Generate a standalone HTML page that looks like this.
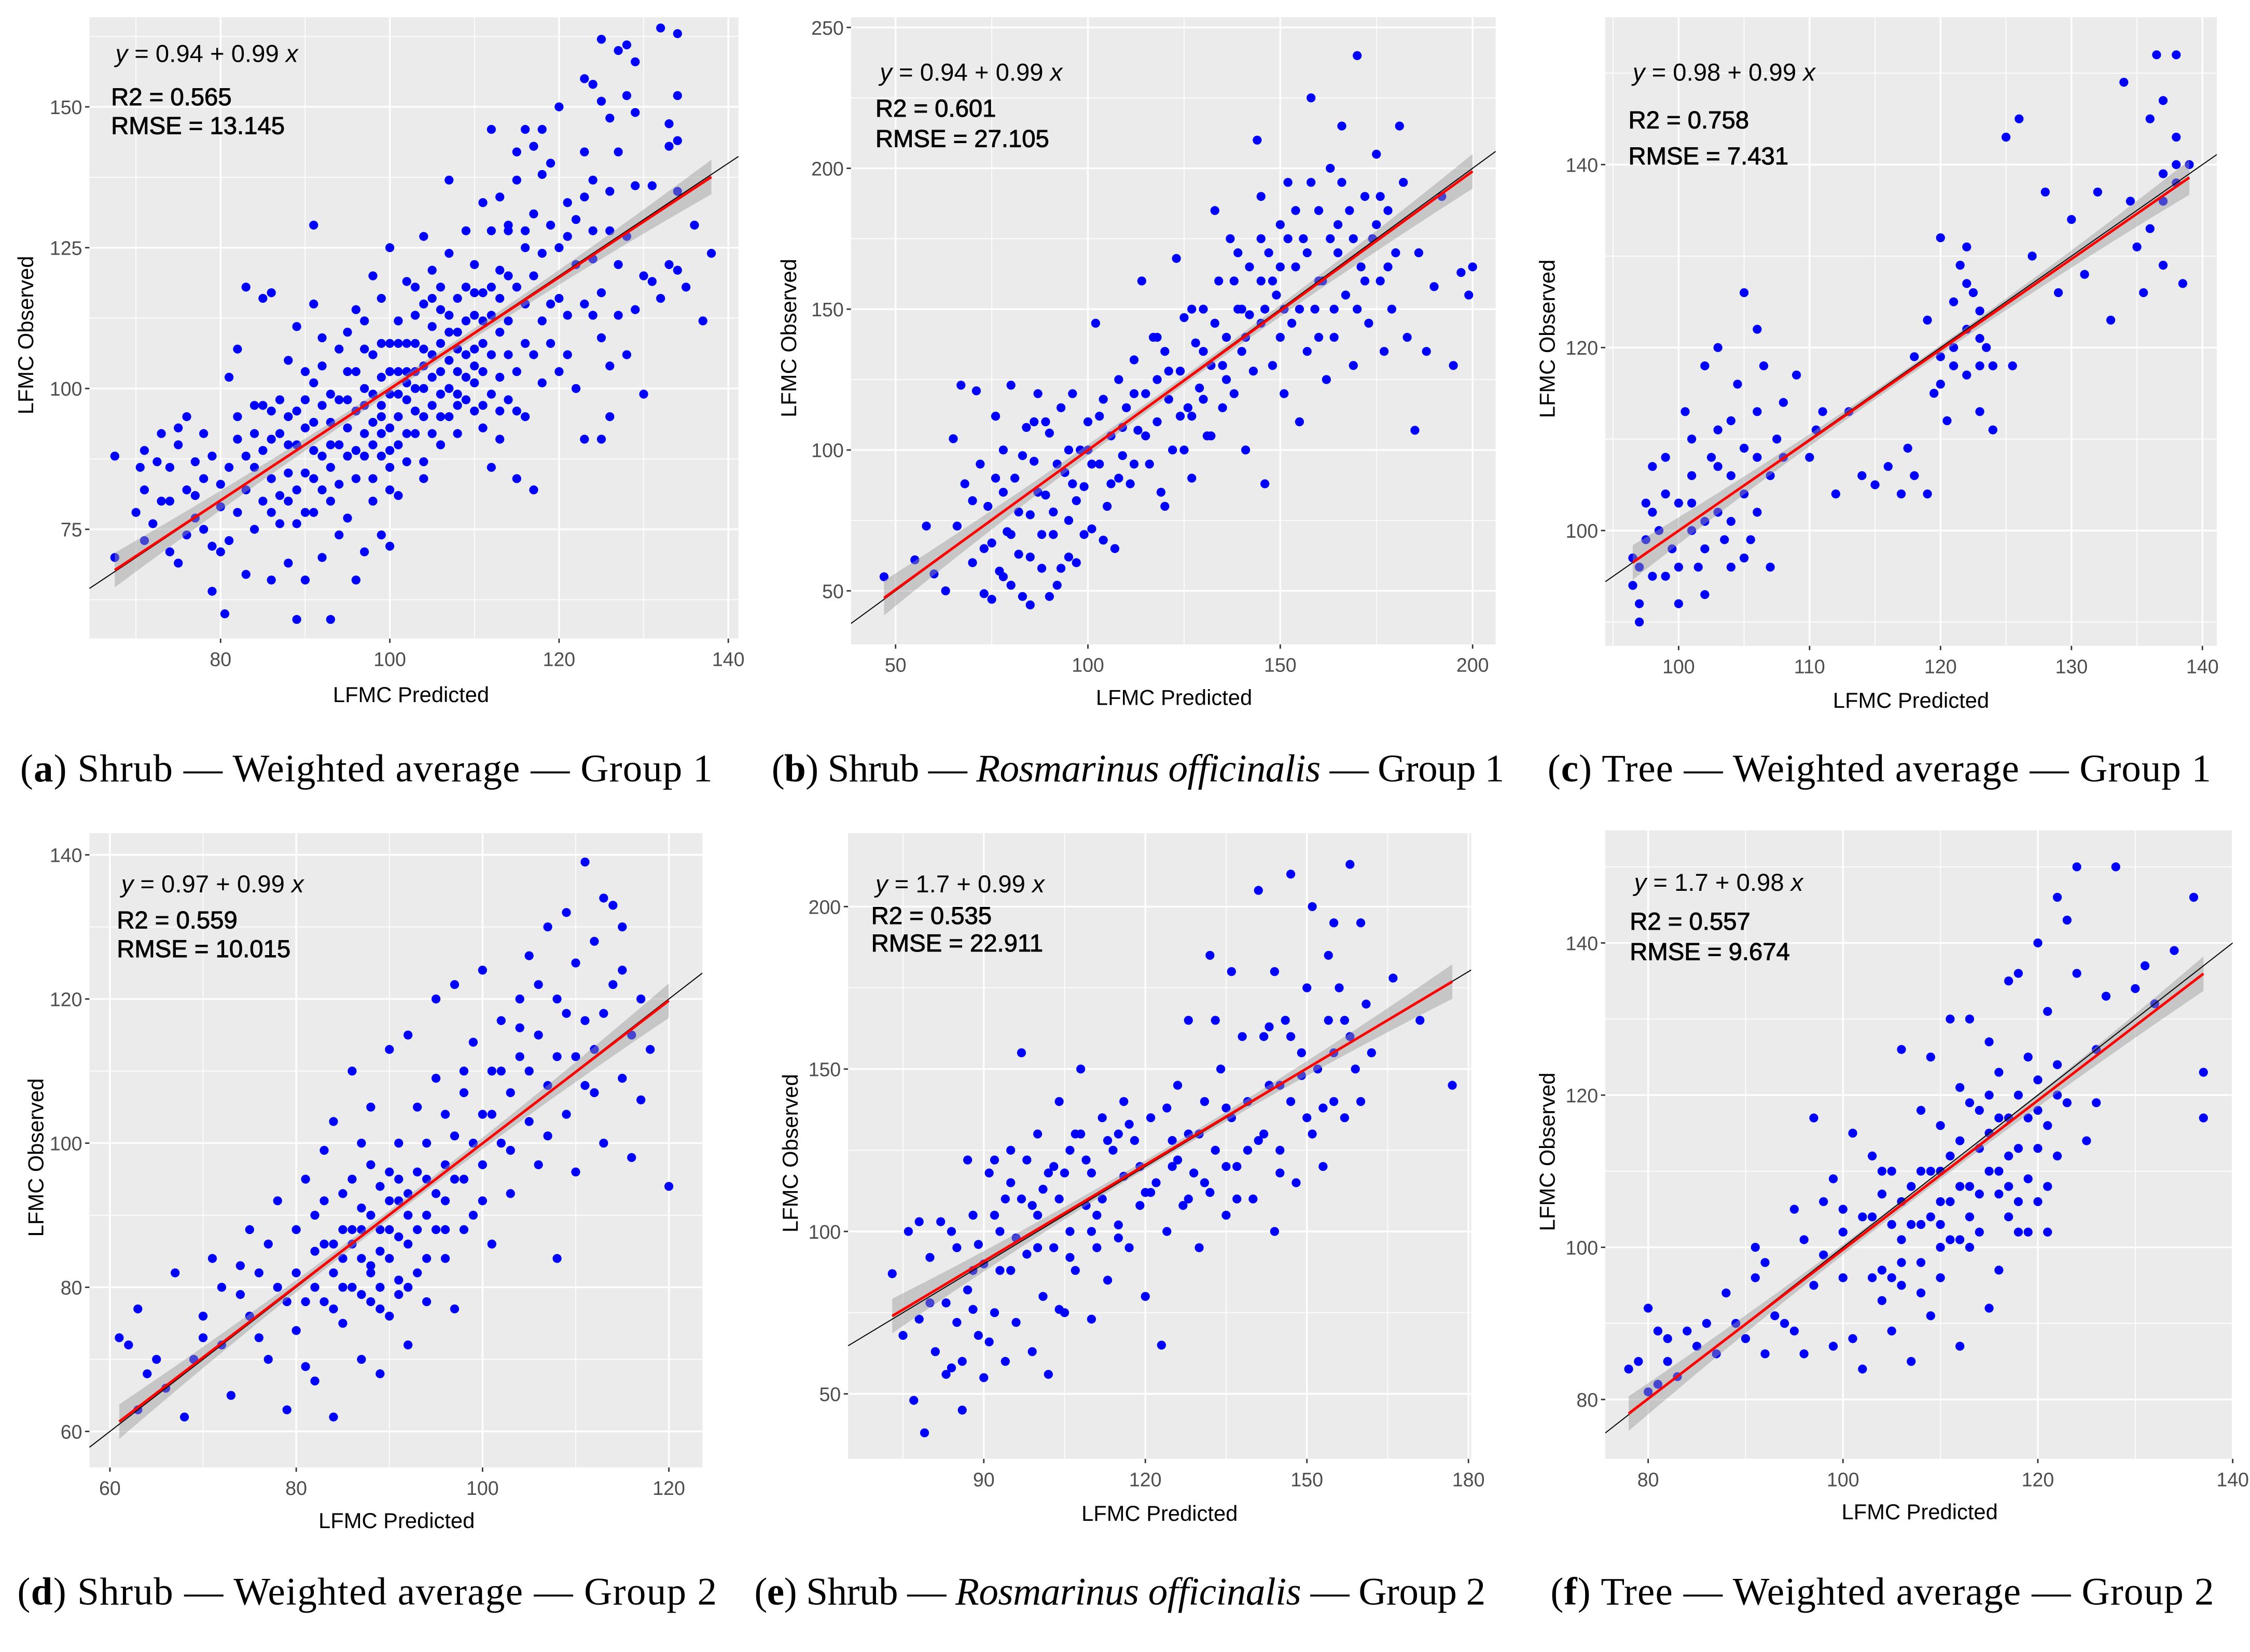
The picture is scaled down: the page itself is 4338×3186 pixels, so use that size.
<!DOCTYPE html>
<html><head><meta charset="utf-8"><style>
html,body{margin:0;padding:0;background:#fff;}
svg{display:block;}
.tick{font-family:"Liberation Sans",sans-serif;font-size:13.5px;fill:#4d4d4d;}
.atitle{font-family:"Liberation Sans",sans-serif;font-size:15px;fill:#000;}
.ann{font-family:"Liberation Sans",sans-serif;font-size:17px;fill:#000;}
.annb{font-family:"Liberation Sans",sans-serif;font-size:17px;fill:#000;stroke:#000;stroke-width:0.35;}
.cap{font-family:"Liberation Serif",serif;font-size:27px;fill:#000;}
</style></head><body>
<svg id="fig" xmlns="http://www.w3.org/2000/svg" width="4338" height="3186" viewBox="0 0 1560 1146" preserveAspectRatio="none">
<rect x="0" y="0" width="1560" height="1146" fill="#fff"/>
<text class="cap" x="14" y="542" textLength="480">(<tspan font-weight="bold">a</tspan>) Shrub — Weighted average — Group 1</text>
<text class="cap" x="535" y="542" textLength="508">(<tspan font-weight="bold">b</tspan>) Shrub — <tspan font-style="italic">Rosmarinus officinalis</tspan> — Group 1</text>
<text class="cap" x="1073" y="542" textLength="460">(<tspan font-weight="bold">c</tspan>) Tree — Weighted average — Group 1</text>
<text class="cap" x="12" y="1113" textLength="485">(<tspan font-weight="bold">d</tspan>) Shrub — Weighted average — Group 2</text>
<text class="cap" x="523" y="1113" textLength="507">(<tspan font-weight="bold">e</tspan>) Shrub — <tspan font-style="italic">Rosmarinus officinalis</tspan> — Group 2</text>
<text class="cap" x="1075" y="1113" textLength="460">(<tspan font-weight="bold">f</tspan>) Tree — Weighted average — Group 2</text>
</svg>
<script>
const ptsA=[[67.5,88],[67.5,70],[70,78],[70.5,86],[71,73],[71,89],[71,82],[72.5,87],[73,80],[73,92],[74,80],[74,71],[75,93],[75,90],[75,69],[76,74],[76,95],[77,81],[77,87],[78,92],[78,75],[79,72],[79,88],[79,64],[80,83],[80,79],[80.5,60],[81,102],[81,73],[82,107],[82,95],[82,91],[83,118],[83,88],[83,67],[84,92],[84,75],[85,116],[85,97],[85,80],[86,117],[86,96],[86,84],[86,66],[87,92],[87,81],[88,105],[88,90],[88,69],[89,111],[89,96],[89,76],[89,59],[90,103],[90,93],[90,85],[90,66],[91,129],[91,115],[91,101],[91,89],[91,78],[92,109],[92,97],[92,82],[92,70],[93,94],[93,86],[93,59],[94,107],[94,98],[94,83],[95,110],[95,103],[95,88],[95,77],[96,114],[96,96],[96,89],[96,66],[97,112],[97,100],[97,92],[97,71],[98,120],[98,106],[98,94],[98,84],[99,116],[99,102],[99,97],[99,88],[99,74],[100,125],[100,108],[100,99],[100,93],[100,82],[100,72],[101,112],[101,103],[101,95],[101,81],[102,119],[102,108],[102,98],[102,92],[103,113],[103,103],[103,96],[104,127],[104,115],[104,107],[104,100],[104,87],[104,84],[105,121],[105,111],[105,102],[105,97],[106,114],[106,108],[106,99],[106,90],[107,137],[107,124],[107,113],[107,105],[107,95],[108,116],[108,110],[108,103],[108,92],[109,128],[109,118],[109,106],[109,98],[110,122],[110,113],[110,101],[110,96],[111,133],[111,117],[111,108],[111,93],[112,146],[112,128],[112,118],[112,106],[112,86],[113,134],[113,116],[113,102],[113,91],[114,129],[114,120],[114,106],[114,98],[115,142],[115,137],[115,103],[115,84],[116,146],[116,125],[116,115],[116,95],[117,143],[117,131],[117,106],[117,82],[118,146],[118,138],[118,124],[118,101],[119,140],[119,129],[119,108],[120,150],[120,116],[120,103],[121,133],[121,127],[121,106],[122,130],[122,100],[123,155],[123,142],[123,134],[123,115],[123,91],[124,154],[124,137],[124,123],[124,113],[125,162],[125,151],[125,117],[125,109],[125,91],[126,148],[126,128],[126,104],[126,95],[127,160],[127,142],[127,122],[127,113],[128,161],[128,152],[128,127],[128,106],[129,158],[129,149],[129,136],[129,114],[130,99],[130,120],[131,136],[131,119],[132,164],[132,116],[133,147],[133,143],[133,122],[134,163],[134,152],[134,144],[134,121],[134,135],[135,118],[136,129],[137,112],[138,124],[88,80],[93,90],[97,97],[101,99],[103,100],[105,106],[95,93],[99,95],[102,103],[106,103],[110,107],[84,86],[86,78],[91,84],[98,90],[100,89],[103,92],[108,99],[111,112],[113,110],
[72,76],[74,86],[76,82],[77,77],[78,84],[80,71],[81,86],[82,78],[83,82],[84,97],[85,89],[86,91],[87,76],[87,98],[88,85],[88,95],[89,82],[89,90],[90,78],[90,98],[91,94],[92,88],[92,104],[93,80],[93,99],[94,90],[94,74],[95,98],[96,84],[96,103],[97,88],[97,107],[98,99],[98,80],[99,108],[99,92],[100,103],[100,86],[101,108],[101,90],[102,101],[102,87],[103,108],[103,118],[104,95],[104,104],[105,92],[105,116],[106,95],[106,118],[107,100],[107,110],[108,107],[108,97],[109,102],[109,112],[110,117],[110,104],[111,103],[111,97],[112,113],[112,99],[113,121],[113,96],[114,112],[114,128],[115,96],[115,118],[116,108],[116,128],[117,120],[118,112],[119,115],[120,125],[121,113],[122,122],[124,128],[126,135]];
const ptsB=[[47,55],[55,61],[58,73],[60,56],[63,50],[65,104],[66,73],[67,123],[68,88],[70,60],[71,121],[72,95],[73,49],[74,80],[75,67],[76,112],[77,57],[78,100],[79,71],[80,123],[81,90],[82,63],[83,48],[84,108],[85,77],[86,96],[87,120],[88,58],[89,84],[90,106],[91,70],[92,52],[93,115],[94,92],[95,75],[96,120],[97,60],[98,100],[99,87],[100,110],[101,72],[102,145],[103,95],[104,118],[105,80],[106,105],[107,65],[108,125],[109,98],[110,115],[111,88],[112,132],[113,107],[114,160],[115,120],[116,95],[117,140],[118,110],[119,85],[120,135],[121,118],[122,100],[123,168],[124,128],[125,147],[126,115],[127,90],[128,138],[129,122],[130,150],[131,105],[132,130],[133,185],[134,160],[135,115],[136,140],[137,175],[138,120],[139,150],[140,135],[141,100],[142,165],[143,128],[144,210],[145,145],[146,88],[147,170],[148,130],[149,155],[150,180],[151,120],[152,195],[153,145],[154,165],[155,110],[156,175],[157,135],[158,225],[159,150],[160,185],[161,160],[162,125],[163,200],[164,140],[165,170],[166,215],[167,155],[168,185],[169,130],[170,240],[171,165],[172,190],[173,145],[174,175],[175,205],[176,160],[177,135],[178,185],[179,150],[180,170],[181,215],[182,195],[183,140],[185,107],[186,170],[188,135],[190,158],[192,190],[195,130],[197,163],[199,155],[200,165],[75,47],[80,52],[85,45],[90,48],[88,70],[95,62],[82,78],[78,85],[92,95],[86,110],[96,88],[100,100],[104,68],[108,90],[112,95],[118,125],[125,100],[130,118],[135,130],[140,150],[145,160],[150,140],[155,150],[160,140],[165,180],[170,150],[150,165],[145,175],[138,160],[132,105],[127,112],[120,80],
[70,82],[73,65],[76,90],[78,55],[80,70],[83,98],[85,62],[87,85],[89,110],[91,78],[93,58],[95,100],[97,82],[99,70],[101,95],[103,112],[106,88],[109,108],[112,120],[115,105],[118,140],[121,128],[124,112],[127,150],[130,135],[133,145],[136,125],[139,170],[142,148],[145,190],[148,160],[151,150],[154,185],[157,170],[160,160],[163,175],[166,195],[169,175],[172,160],[175,180],[178,165],[141,140],[146,150],[152,175],[158,195],[164,150],[176,190]];
const ptsC=[[96.5,97],[96.5,94],[97,92],[97,90],[97,96],[97.5,99],[97.5,103],[98,107],[98,95],[98.5,100],[99,104],[99,108],[99.5,98],[100,103],[100,96],[100,92],[100.5,113],[101,100],[101,110],[101,106],[101.5,96],[102,101],[102,118],[102,93],[102.5,108],[103,102],[103,120],[103,111],[103.5,99],[104,106],[104,112],[104,96],[104.5,116],[105,104],[105,109],[105,126],[105.5,99],[106,113],[106,102],[106,122],[106.5,118],[107,106],[107,96],[107.5,110],[108,108],[108,114],[109,117],[110,108],[110.5,111],[111,113],[112,104],[113,113],[114,106],[115,105],[116,107],[117,104],[117.5,109],[118,106],[118,119],[119,104],[119,123],[119.5,115],[120,119],[120,132],[120.5,112],[121,125],[121,120],[121.5,129],[122,122],[122,117],[122,131],[122.5,126],[123,118],[123,113],[123,124],[123.5,120],[124,111],[124,118],[125,143],[125.5,118],[126,145],[127,130],[128,137],[129,126],[130,134],[131,128],[132,137],[133,123],[134,149],[134.5,136],[135,131],[135.5,126],[136,133],[136,145],[136.5,152],[137,147],[137,129],[137,136],[138,140],[138,152],[138,143],[138.5,127],[139,140],[98,102],[99,95],[101,103],[102,98],[103,107],[104,101],[105,97],[106,108],[120,116],[121,118],[122,127],[123,121],[137,139],[138,138]];
const ptsD=[[61,73],[62,72],[63,63],[63,77],[64,68],[65,70],[66,66],[67,82],[68,62],[69,70],[70,76],[71,84],[72,72],[73,65],[74,79],[74,83],[75,88],[76,73],[77,70],[77,86],[78,92],[79,78],[79,63],[80,88],[80,74],[81,95],[81,69],[82,85],[82,67],[83,99],[83,78],[83,92],[84,82],[84,103],[84,62],[85,88],[85,75],[86,95],[86,110],[86,80],[87,84],[87,70],[87,100],[88,90],[88,78],[88,105],[89,85],[89,68],[89,94],[90,113],[90,88],[90,76],[91,92],[91,100],[91,81],[92,86],[92,115],[92,72],[93,96],[93,82],[93,105],[94,90],[94,78],[95,109],[95,88],[95,120],[96,97],[96,84],[97,122],[97,101],[97,77],[98,95],[98,107],[99,114],[99,90],[100,104],[100,124],[100,97],[101,110],[101,86],[102,117],[102,100],[103,107],[103,93],[104,120],[104,112],[105,126],[105,103],[106,115],[106,97],[107,108],[107,130],[108,120],[108,112],[108,84],[109,132],[109,104],[110,125],[110,96],[111,139],[111,117],[111,108],[112,128],[112,113],[113,134],[113,100],[114,122],[114,133],[115,109],[115,124],[116,115],[116,98],[117,106],[118,113],[120,94],[84,86],[86,88],[88,83],[90,92],[92,90],[85,80],[89,80],[91,87],[94,95],[96,92],[82,80],[87,91],
[70,73],[72,80],[75,76],[76,82],[78,80],[80,82],[81,78],[82,90],[83,86],[84,77],[85,84],[85,93],[86,86],[87,79],[87,88],[88,82],[88,97],[89,88],[89,77],[90,84],[90,96],[91,79],[91,95],[92,93],[92,80],[93,88],[94,84],[94,100],[95,93],[96,88],[96,104],[97,95],[98,88],[98,110],[99,100],[100,92],[101,104],[102,110],[103,99],[104,116],[105,110],[106,122],[107,101],[109,118],[110,112],[112,107],[113,118],[115,130],[117,120]];
const ptsE=[[73,87],[75,68],[76,100],[77,48],[78,73],[79,38],[80,92],[81,63],[82,103],[83,78],[84,58],[85,95],[86,45],[87,82],[88,105],[89,68],[90,90],[90,55],[91,118],[92,75],[93,100],[94,60],[95,88],[95,125],[96,72],[97,110],[97,155],[98,93],[99,63],[100,130],[100,105],[101,80],[102,118],[102,56],[103,95],[104,140],[104,110],[105,75],[106,125],[106,100],[107,88],[108,130],[108,150],[109,108],[110,118],[110,73],[111,95],[112,135],[112,110],[113,85],[114,125],[115,102],[116,140],[116,117],[117,95],[118,128],[119,108],[120,80],[121,135],[122,115],[123,65],[124,100],[125,120],[126,145],[127,108],[128,130],[128,165],[129,118],[130,95],[131,140],[132,112],[132,185],[133,125],[134,150],[135,105],[136,135],[136,180],[137,120],[138,160],[139,140],[140,110],[141,205],[142,130],[142,160],[143,145],[144,100],[144,180],[145,125],[146,165],[147,210],[147,140],[148,115],[149,155],[150,175],[150,135],[151,200],[152,150],[153,120],[154,185],[154,165],[155,140],[156,175],[157,135],[158,213],[158,160],[159,150],[160,195],[161,170],[162,155],[166,178],[171,165],[177,145],[95,115],[105,118],[115,130],[125,128],[135,120],[145,145],[155,155],[100,95],[110,100],[120,112],[88,88],[92,105],
[78,103],[80,78],[83,56],[84,100],[85,72],[86,60],[87,122],[88,76],[89,96],[91,66],[92,122],[93,88],[94,110],[96,98],[98,122],[99,108],[101,113],[103,120],[104,76],[106,92],[107,130],[109,122],[111,105],[113,128],[115,98],[117,133],[119,120],[121,112],[124,138],[126,122],[128,110],[130,130],[131,115],[133,165],[135,138],[137,110],[139,125],[141,128],[143,163],[145,118],[147,160],[149,148],[151,130],[153,138],[155,195],[157,165],[160,140]];
const ptsF=[[78,84],[79,85],[80,92],[80,81],[81,89],[81,82],[82,85],[82,88],[83,83],[84,89],[85,87],[86,90],[87,86],[88,94],[89,90],[90,88],[91,100],[91,96],[92,98],[92,86],[93,91],[94,90],[95,105],[95,89],[96,101],[96,86],[97,117],[97,95],[98,106],[98,99],[99,109],[99,87],[100,102],[100,96],[101,115],[101,88],[102,104],[102,84],[103,112],[103,96],[104,107],[104,93],[105,110],[105,89],[106,126],[106,101],[106,95],[107,108],[107,85],[108,118],[108,103],[108,94],[109,110],[109,125],[109,91],[110,116],[110,106],[110,96],[111,130],[111,112],[111,101],[112,121],[112,108],[112,87],[113,130],[113,119],[113,104],[114,113],[114,102],[115,127],[115,110],[115,92],[116,123],[116,107],[116,97],[117,135],[117,117],[117,104],[118,136],[118,113],[118,102],[119,125],[119,109],[120,140],[120,122],[120,106],[121,131],[121,116],[121,102],[122,146],[122,124],[122,112],[123,143],[123,119],[124,150],[124,136],[125,114],[126,126],[126,119],[127,133],[128,150],[130,134],[131,137],[132,132],[134,139],[136,146],[137,123],[137,117],[120,113],[115,115],[105,103],[100,105],[110,100],[118,120],
[103,104],[104,97],[104,110],[105,96],[106,106],[107,103],[108,110],[109,104],[110,110],[111,106],[112,114],[113,108],[114,118],[114,107],[115,120],[116,110],[116,117],[117,108],[117,112],[118,106],[119,117],[119,102],[120,118],[121,108],[122,120],[106,98],[108,98],[110,103],[112,101],[113,100]];
const xTicksA=[80,100,120,140], yTicksA=[75,100,125,150];
const xTicksB=[50,100,150,200], yTicksB=[50,100,150,200,250];
const xTicksC=[100,110,120,130,140], yTicksC=[100,120,140];
const xTicksD=[60,80,100,120], yTicksD=[60,80,100,120,140];
const xTicksE=[90,120,150,180], yTicksE=[50,100,150,200];
const xTicksF=[80,100,120,140], yTicksF=[80,100,120,140];
const interceptA=0.94, slopeA=0.99, r2A="0.565", rmseA="13.145";
const interceptB=0.94, slopeB=0.99, r2B="0.601", rmseB="27.105";
const interceptC=0.98, slopeC=0.99, r2C="0.758", rmseC="7.431";
const interceptD=0.97, slopeD=0.99, r2D="0.559", rmseD="10.015";
const interceptE=1.7, slopeE=0.99, r2E="0.535", rmseE="22.911";
const interceptF=1.7, slopeF=0.98, r2F="0.557", rmseF="9.674";

const NS="http://www.w3.org/2000/svg";
const svg=document.getElementById('fig');
function mk(tag,attrs,parent){const e=document.createElementNS(NS,tag);for(const k in attrs)e.setAttribute(k,attrs[k]);(parent||svg).appendChild(e);return e;}

const panels=[
 {id:'a',pts:ptsA,xt:xTicksA,yt:yTicksA,a:interceptA,b:slopeA,r2:r2A,rmse:rmseA,L:62,R:512,T:12,B:443,x0:64.5,x1:141.2,y0:55.6,y1:165.9,eq:[80,43],r2y:73,rmy:93,ytx:18,xty:487,xtitle:285},
 {id:'b',pts:ptsB,xt:xTicksB,yt:yTicksB,a:interceptB,b:slopeB,r2:r2B,rmse:rmseB,L:590,R:1037,T:12,B:447,x0:38.4,x1:206,y0:31,y1:253.6,eq:[610,56],r2y:81,rmy:102,ytx:547,xty:489,xtitle:814},
 {id:'c',pts:ptsC,xt:xTicksC,yt:yTicksC,a:interceptC,b:slopeC,r2:r2C,rmse:rmseC,L:1113,R:1537,T:12,B:448,x0:94.4,x1:141.1,y0:87.4,y1:156.1,eq:[1132,56],r2y:89,rmy:114,ytx:1073,xty:491,xtitle:1325},
 {id:'d',pts:ptsD,xt:xTicksD,yt:yTicksD,a:interceptD,b:slopeD,r2:r2D,rmse:rmseD,L:62,R:487,T:578,B:1018,x0:57.8,x1:123.6,y0:55,y1:143,eq:[84,619],r2y:644,rmy:664,ytx:25,xty:1060,xtitle:275},
 {id:'e',pts:ptsE,xt:xTicksE,yt:yTicksE,a:interceptE,b:slopeE,r2:r2E,rmse:rmseE,L:588,R:1020,T:578,B:1012,x0:64.8,x1:180.5,y0:30,y1:222.6,eq:[607,619],r2y:641,rmy:660,ytx:548,xty:1055,xtitle:804},
 {id:'f',pts:ptsF,xt:xTicksF,yt:yTicksF,a:interceptF,b:slopeF,r2:r2F,rmse:rmseF,L:1113,R:1548,T:576,B:1012,x0:75.6,x1:140,y0:72.2,y1:154.8,eq:[1133,618],r2y:645,rmy:666,ytx:1073,xty:1054,xtitle:1331}
];

panels.forEach(p=>{
 const sx=v=>p.L+(v-p.x0)/(p.x1-p.x0)*(p.R-p.L);
 const sy=v=>p.B-(v-p.y0)/(p.y1-p.y0)*(p.B-p.T);
 const g=mk('g',{});
 
 
 const bg=mk('rect',{x:p.L,y:p.T,width:p.R-p.L,height:p.B-p.T,fill:'#ebebeb'},g);
 
 
 const cp=mk('clipPath',{id:'clip'+p.id},g);
 mk('rect',{x:p.L,y:p.T,width:p.R-p.L,height:p.B-p.T},cp);
 const dx=p.xt[1]-p.xt[0], dy=p.yt[1]-p.yt[0];
 for(let v=p.xt[0]-dx/2; v<=p.x1; v+=dx){ if(v<p.x0) continue; mk('line',{x1:sx(v),x2:sx(v),y1:p.T,y2:p.B,stroke:'#fff','stroke-width':0.6},g); }
 for(let v=p.yt[0]-dy/2; v<=p.y1; v+=dy){ if(v<p.y0) continue; mk('line',{y1:sy(v),y2:sy(v),x1:p.L,x2:p.R,stroke:'#fff','stroke-width':0.6},g); }
 p.xt.forEach(v=>{
  if(v<=p.x1+0.01) mk('line',{x1:sx(v),x2:sx(v),y1:p.T,y2:p.B,stroke:'#fff','stroke-width':1.2},g);
  mk('line',{x1:sx(v),x2:sx(v),y1:p.B,y2:p.B+3,stroke:'#333','stroke-width':1},g);
  const t=mk('text',{x:sx(v),y:p.B+19,'text-anchor':'middle',class:'tick'},g);t.textContent=v;
  
  
 });
 p.yt.forEach(v=>{
  mk('line',{y1:sy(v),y2:sy(v),x1:p.L,x2:p.R,stroke:'#fff','stroke-width':1.2},g);
  mk('line',{y1:sy(v),y2:sy(v),x1:p.L-3,x2:p.L,stroke:'#333','stroke-width':1},g);
  const t=mk('text',{x:p.L-5,y:sy(v)+5,'text-anchor':'end',class:'tick'},g);t.textContent=v;
  
  
 });
 const yt=mk('text',{x:p.ytx,y:(p.T+p.B)/2,'text-anchor':'middle',class:'atitle',transform:'rotate(-90 '+(p.ytx+5)+' '+((p.T+p.B)/2)+')'},g);
 yt.textContent='LFMC Observed';
 
 
 const xtt=mk('text',{x:p.xtitle,y:p.xty,'text-anchor':'middle',class:'atitle'},g);
 xtt.textContent='LFMC Predicted';
 
 
 const cg=mk('g',{'clip-path':'url(#clip'+p.id+')'},g);
 p.pts.forEach(d=>{
  const c=mk('circle',{cx:sx(d[0]),cy:sy(d[1]),r:3.1,fill:'#0000ff'},cg);
  
  
 });
 const xs=p.pts.map(d=>d[0]);
 const mn=Math.min(...xs), mx=Math.max(...xs), mid=(mn+mx)/2, hr=(mx-mn)/2;
 const up=[],lo=[];
 for(let i=0;i<=40;i++){const x=mn+(mx-mn)*i/40;const yv=p.a+p.b*x;const h=3+9*Math.pow((x-mid)/hr,2);
  up.push(sx(x)+','+(sy(yv)-h));lo.unshift(sx(x)+','+(sy(yv)+h));}
 const band=mk('polygon',{points:up.concat(lo).join(' '),fill:'#999','fill-opacity':0.45},cg);
 
 
 const one=mk('line',{x1:sx(p.x0),y1:sy(p.x0),x2:sx(p.x1),y2:sy(p.x1),stroke:'#000','stroke-width':0.7},cg);
 
 
 const fit=mk('line',{x1:sx(mn),y1:sy(p.a+p.b*mn),x2:sx(mx),y2:sy(p.a+p.b*mx),stroke:'#ff0000','stroke-width':1.8},cg);
 
 
 const eq=mk('text',{x:p.eq[0],y:p.eq[1],class:'ann'},g);
 eq.innerHTML='<tspan font-style="italic">y</tspan> = '+p.a+' + '+p.b+' <tspan font-style="italic">x</tspan>';
 
 
 const r=mk('text',{x:p.eq[0]-3,y:p.r2y,class:'annb'},g);r.textContent='R2 = '+p.r2;
 
 
 const m=mk('text',{x:p.eq[0]-3,y:p.rmy,class:'annb'},g);m.textContent='RMSE = '+p.rmse;
 
 
});
</script>
</body></html>
